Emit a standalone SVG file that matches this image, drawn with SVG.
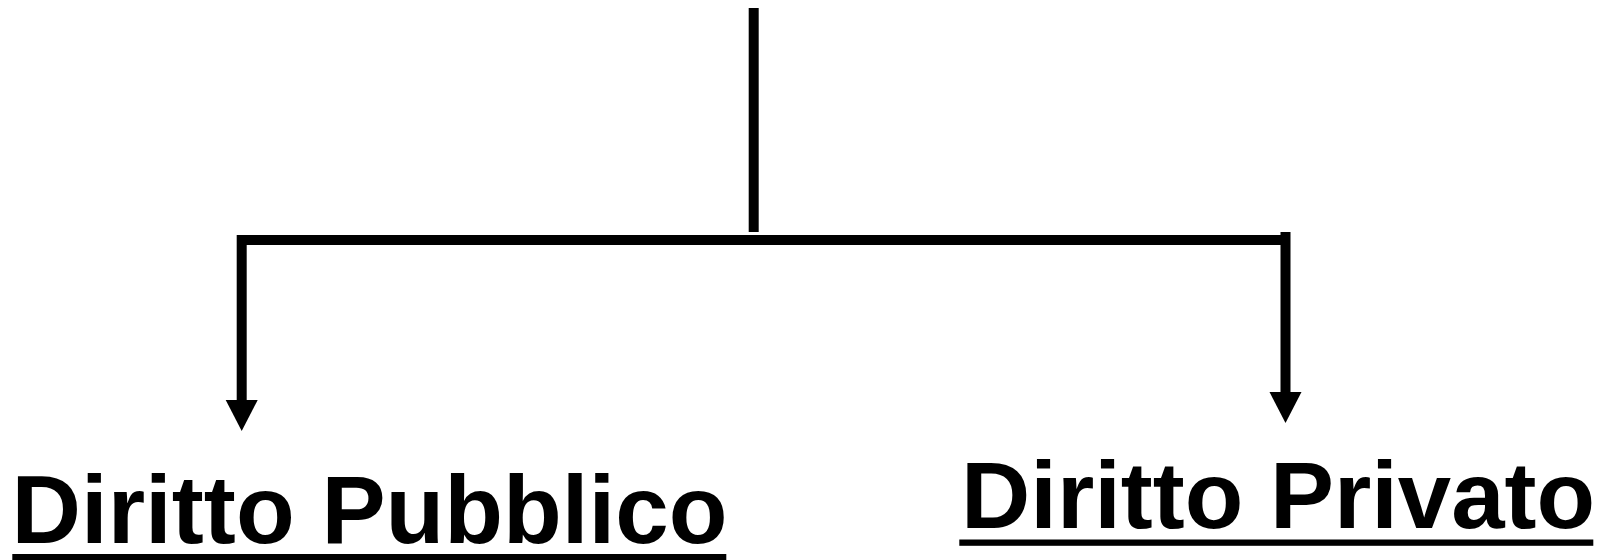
<svg xmlns="http://www.w3.org/2000/svg" width="1610" height="560" viewBox="0 0 1610 560">
  <style>
    .wire { fill: none; stroke: #000; stroke-width: 10; stroke-linecap: butt; }
    .label { font-family: "Liberation Sans", Arial, sans-serif; font-weight: bold; fill: #000; }
    .rule { fill: #000; }
  </style>
  <defs>
    <marker id="arrow" markerUnits="userSpaceOnUse" markerWidth="32" markerHeight="32" viewBox="0 0 32 32" refX="16" refY="0" orient="0" overflow="visible">
      <path d="M0,0 L32,0 L16,31 Z" fill="#000"/>
    </marker>
  </defs>

  <!-- branching connectors -->
  <g id="connectors">
    <line class="wire" x1="753.7" y1="8" x2="753.7" y2="232"/>
    <line class="wire" x1="237" y1="240" x2="1290" y2="240"/>
    <line class="wire" x1="241.7" y1="235" x2="241.7" y2="400" marker-end="url(#arrow)"/>
    <line class="wire" x1="1285.5" y1="232" x2="1285.5" y2="392" marker-end="url(#arrow)"/>
  </g>

  <!-- left branch -->
  <g id="diritto-pubblico">
    <text class="label" x="11.5" y="543" font-size="96" textLength="716" lengthAdjust="spacingAndGlyphs">Diritto Pubblico</text>
    <rect class="rule" x="12.3" y="554" width="714" height="6"/>
  </g>

  <!-- right branch -->
  <g id="diritto-privato">
    <text class="label" x="961" y="528.3" font-size="94" textLength="634" lengthAdjust="spacingAndGlyphs">Diritto Privato</text>
    <rect class="rule" x="959.3" y="539.5" width="634" height="6.3"/>
  </g>
</svg>
